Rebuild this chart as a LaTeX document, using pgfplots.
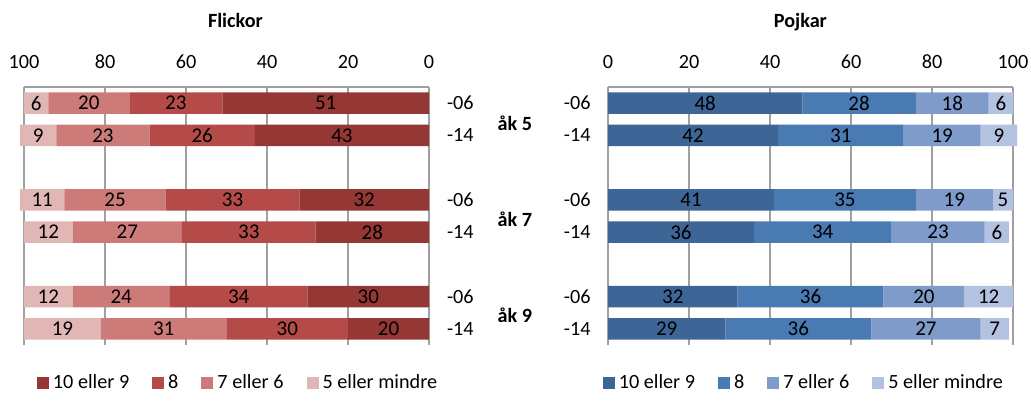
\documentclass[border=0pt]{standalone}
\usepackage{pgfplots}
\pgfplotsset{compat=1.18}
\usepackage{pgfplotstable}
\usepackage{fontspec}
\setmainfont{Carlito}
\definecolor{r1}{HTML}{953735}
\definecolor{r2}{HTML}{B44B48}
\definecolor{r3}{HTML}{CD7B79}
\definecolor{r4}{HTML}{E1B7B6}
\definecolor{b1}{HTML}{3D6596}
\definecolor{b2}{HTML}{4A7AB2}
\definecolor{b3}{HTML}{7E9BCA}
\definecolor{b4}{HTML}{B3C2E0}
\definecolor{gridc}{HTML}{A0A0A0}

\pgfplotstableread{
y a b c d
0 51 23 20 6
1 43 26 23 9
3 32 33 25 11
4 28 33 27 12
6 30 34 24 12
7 20 30 31 19
}\girls
\pgfplotstableread{
y a b c d
0 48 28 18 6
1 42 31 19 9
3 41 35 19 5
4 36 34 23 6
6 32 36 20 12
7 29 36 27 7
}\boys
% centres of the stacked segments, for the value labels
\pgfplotstablecreatecol[create col/expr={\thisrow{a}/2}]{ca}{\girls}
\pgfplotstablecreatecol[create col/expr={\thisrow{a}+\thisrow{b}/2}]{cb}{\girls}
\pgfplotstablecreatecol[create col/expr={\thisrow{a}+\thisrow{b}+\thisrow{c}/2}]{cc}{\girls}
\pgfplotstablecreatecol[create col/expr={\thisrow{a}+\thisrow{b}+\thisrow{c}+\thisrow{d}/2}]{cd}{\girls}
\pgfplotstablecreatecol[create col/expr={\thisrow{a}/2}]{ca}{\boys}
\pgfplotstablecreatecol[create col/expr={\thisrow{a}+\thisrow{b}/2}]{cb}{\boys}
\pgfplotstablecreatecol[create col/expr={\thisrow{a}+\thisrow{b}+\thisrow{c}/2}]{cc}{\boys}
\pgfplotstablecreatecol[create col/expr={\thisrow{a}+\thisrow{b}+\thisrow{c}+\thisrow{d}/2}]{cd}{\boys}

\newcommand{\tf}{\fontsize{10.1}{12}\selectfont}
\newcommand{\barf}{\fontsize{10.5}{12}\selectfont}
\pgfplotsset{
  geom/.style={
    scale only axis,
    width=202.5pt, height=129pt,
    xmin=0, xmax=100,
    ymin=-0.5, ymax=7.5,
    enlargelimits=false,
    y dir=reverse,
    clip=false,
  },
  mybase/.style={
    geom,
    xbar stacked,
    bar width=10.7pt,
    xtick={0,20,...,100},
    ytick={0,1,3,4,6,7},
    yticklabels={-06,-14,-06,-14,-06,-14},
    axis x line*=top,
    x axis line style={draw=gridc, line width=0.6pt, -},
    y axis line style={draw=none},
    xmajorgrids,
    major grid style={draw=gridc, line width=0.6pt},
    tick style={draw=none},
    tick label style={font=\tf, text=black},
    xticklabel style={yshift=5.7pt},
    /pgf/number format/assume math mode=true,
    legend columns=4,
    legend style={draw=none, fill=none, font=\tf, anchor=center,
      /tikz/every even column/.append style={column sep=9.5pt}},
    legend image code/.code={\fill[#1,draw=none] (0pt,-3pt) rectangle (6pt,3pt);},
  },
  labaxis/.style={
    geom,
    hide axis,
    point meta=explicit,
    /pgf/number format/assume math mode=true,
    nodes near coords={\pgfmathprintnumber[assume math mode=true]{\pgfplotspointmeta}},
    every node near coord/.append style={font=\barf, text=black, anchor=center},
  },
}

\begin{document}
\begin{tikzpicture}
\useasboundingbox (0,0) rectangle (515.5pt,201pt);
\begin{axis}[mybase,
  at={(12pt,28.5pt)}, anchor=south west,
  x dir=reverse,
  axis y line*=right,
  yticklabel style={xshift=5.5pt},
  legend style={at={(0.531,-0.147)}},
]
\addplot[fill=r1, draw=none] table[x=a, y=y] {\girls};
\addplot[fill=r2, draw=none] table[x=b, y=y] {\girls};
\addplot[fill=r3, draw=none] table[x=c, y=y] {\girls};
\addplot[fill=r4, draw=none] table[x=d, y=y] {\girls};
\legend{10 eller 9, 8, 7 eller 6, 5 eller mindre}
\node[font=\tf\bfseries, anchor=base] at (axis description cs:0.522,1.2326) {Flickor};
\node[font=\tf\bfseries, anchor=base] at (axis cs:-21.2,0.85) {åk 5};
\node[font=\tf\bfseries, anchor=base] at (axis cs:-21.2,3.82) {åk 7};
\node[font=\tf\bfseries, anchor=base] at (axis cs:-21.2,6.79) {åk 9};
\end{axis}
\begin{axis}[labaxis, at={(12pt,28.5pt)}, anchor=south west, x dir=reverse]
\addplot[only marks, mark=none] table[x=ca, y=y, meta=a] {\girls};
\addplot[only marks, mark=none] table[x=cb, y=y, meta=b] {\girls};
\addplot[only marks, mark=none] table[x=cc, y=y, meta=c] {\girls};
\addplot[only marks, mark=none] table[x=cd, y=y, meta=d] {\girls};
\end{axis}
\begin{axis}[mybase,
  at={(304pt,28.5pt)}, anchor=south west,
  axis y line*=left,
  yticklabel style={xshift=-5.2pt},
  legend style={at={(0.486,-0.147)}},
]
\addplot[fill=b1, draw=none] table[x=a, y=y] {\boys};
\addplot[fill=b2, draw=none] table[x=b, y=y] {\boys};
\addplot[fill=b3, draw=none] table[x=c, y=y] {\boys};
\addplot[fill=b4, draw=none] table[x=d, y=y] {\boys};
\legend{10 eller 9, 8, 7 eller 6, 5 eller mindre}
\node[font=\tf\bfseries, anchor=base] at (axis description cs:0.475,1.2326) {Pojkar};
\end{axis}
\begin{axis}[labaxis, at={(304pt,28.5pt)}, anchor=south west]
\addplot[only marks, mark=none] table[x=ca, y=y, meta=a] {\boys};
\addplot[only marks, mark=none] table[x=cb, y=y, meta=b] {\boys};
\addplot[only marks, mark=none] table[x=cc, y=y, meta=c] {\boys};
\addplot[only marks, mark=none] table[x=cd, y=y, meta=d] {\boys};
\end{axis}
\end{tikzpicture}
\end{document}
